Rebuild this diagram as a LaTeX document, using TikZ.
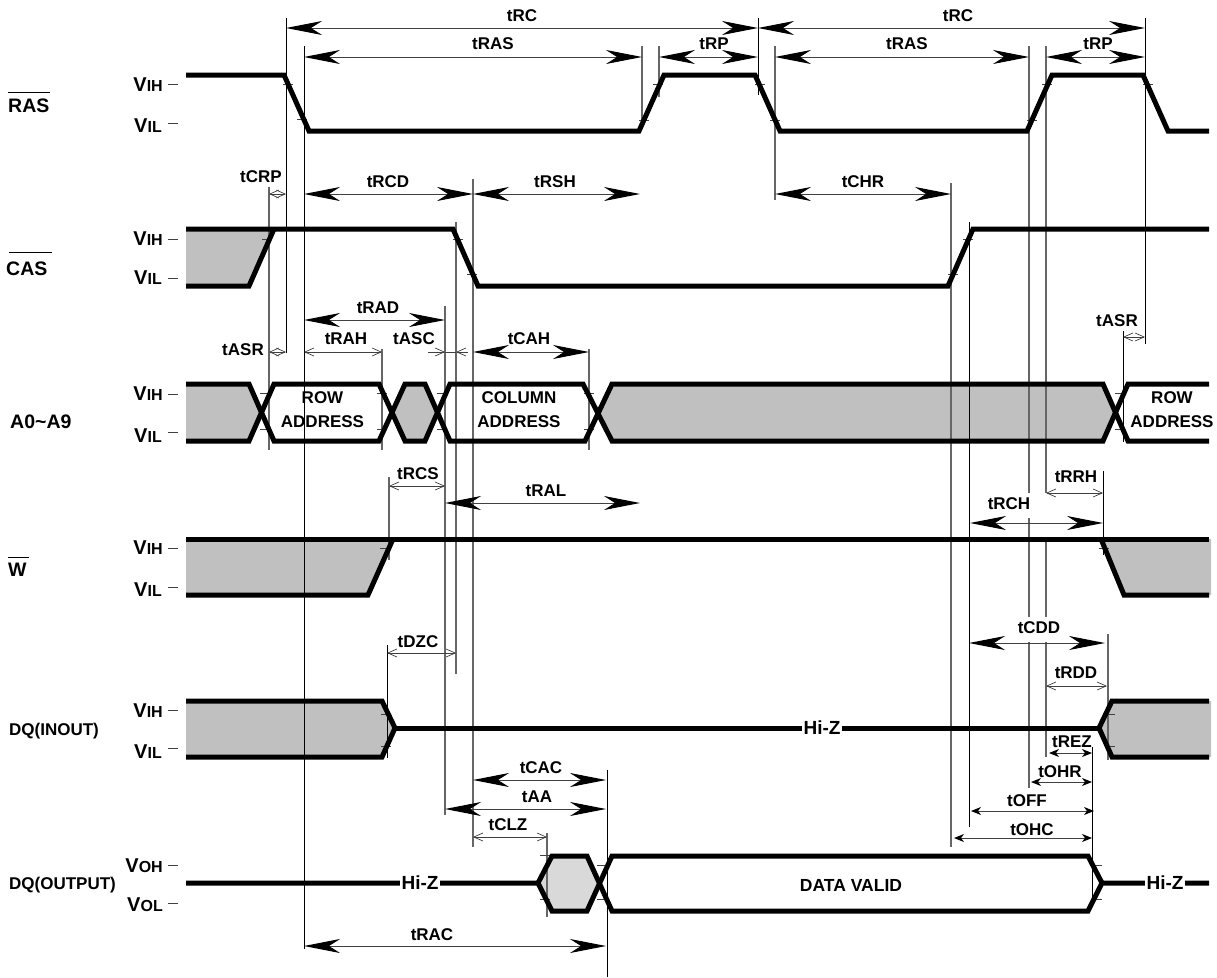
\documentclass[tikz,border=0pt]{standalone}
\usepackage{fontspec}
\setmainfont{Liberation Sans}
\usetikzlibrary{arrows.meta}
\definecolor{sgray}{HTML}{C0C0C0}
\definecolor{lgray}{HTML}{D9D9D9}
\definecolor{shaft}{HTML}{404040}
\definecolor{gguide}{HTML}{666666}
\tikzset{
  sig/.style={line width=5pt,line join=miter,line cap=butt,black},
  zone/.style={fill=sgray,draw=none},
  guideK/.style={line width=1pt,black},
  guideG/.style={line width=1.3pt,gguide},
  vt/.style={line width=1pt,shaft},
  lab/.style={font=\fontsize{17}{17}\selectfont\bfseries,inner sep=0pt,text=black},
  name lab/.style={font=\fontsize{17}{17}\selectfont\bfseries,inner sep=0pt,anchor=west,text=black},
  big name/.style={font=\fontsize{19.5}{20}\selectfont\bfseries,inner sep=0pt,anchor=west,text=black},
  vlab/.style={inner sep=0pt,anchor=east,text=black},
  hiz/.style={font=\fontsize{19}{19}\selectfont\bfseries,fill=white,inner sep=1.5pt,text=black},
  dimB/.style={line width=1pt,shaft,{Stealth[length=36pt,width=14pt,inset=11pt,black]}-{Stealth[length=36pt,width=14pt,inset=11pt,black]}},
  dimM/.style={line width=1pt,shaft,{Stealth[length=10pt,width=8pt,inset=3pt,black]}-{Stealth[length=10pt,width=8pt,inset=3pt,black]}},
  dimS/.style={line width=.8pt,shaft,{Straight Barb[length=9pt,width=8pt,line width=.7pt]}-{Straight Barb[length=9pt,width=8pt,line width=.7pt]}},
}
\newcommand\guide[4][guideK]{\coordinate (ga#2n#3) at (#2,#3); \coordinate (gb#2n#3) at (#2,#4); \draw[#1] (ga#2n#3) -- (gb#2n#3);}
\newcommand\dimension[4]{\coordinate (dl#2n#4) at (#2,#4); \coordinate (dr#3n#4) at (#3,#4); \draw[#1] (dl#2n#4) -- (dr#3n#4);}
\newcommand\vtick[2]{\draw[vt] (#1-5,#2) -- (#1+5,#2);}
\newcommand\VV[2]{{\fontsize{20}{20}\selectfont\bfseries #1}{\fontsize{16}{16}\selectfont\bfseries #2}}
\begin{document}
\begin{tikzpicture}[x=1pt,y=-1pt]
\useasboundingbox (0,0) rectangle (1217,977);
% gray zones
\fill[zone] (186,229) -- (274,229) -- (249,286) -- (186,286) -- cycle;
\fill[zone] (186,384) -- (249,384) -- (261.5,412.5) -- (249,441) -- (186,441) -- cycle;
\fill[zone] (392,412.5) -- (405,384) -- (425,384) -- (437.5,412.5) -- (425,441) -- (405,441) -- cycle;
\fill[zone] (597.5,412.5) -- (612,384) -- (1103,384) -- (1115.5,412.5) -- (1103,441) -- (612,441) -- cycle;
\fill[zone] (186,539) -- (393,539) -- (368,595) -- (186,595) -- cycle;
\fill[zone] (1101,539) -- (1211,539) -- (1211,595) -- (1124,595) -- cycle;
\fill[zone] (186,701) -- (382,701) -- (395,728) -- (382,757) -- (186,757) -- cycle;
\fill[zone] (1099,728) -- (1112,701) -- (1211,701) -- (1211,757) -- (1112,757) -- cycle;
\fill[lgray] (538,883) -- (552,856) -- (587,856) -- (599.5,883) -- (587,911) -- (552,911) -- cycle;
% guide lines
\guide{286}{18}{353}
\guide{304}{46}{949}
\guide[guideG]{269}{187}{450}
\guide[guideG]{382}{349}{450}
\guide[guideG]{445}{306}{815}
\guide[guideG]{456}{222}{674}
\guide[guideG]{473}{179}{847}
\guide[guideG]{589}{349}{450}
\guide[guideG]{389}{477}{560}
\guide{387}{645}{758}
\guide[guideG]{547}{833}{917}
\guide{607}{770}{977}
\guide{758}{18}{95}
\guide[guideG]{642}{46}{125}
\guide[guideG]{659}{46}{97}
\guide[guideG]{775}{46}{200}
\guide[guideG]{951}{183}{847}
\guide{969}{222}{827}
\guide[guideG]{1029}{46}{493}
\guide[guideG]{1029}{518}{617}
\guide[guideG]{1029}{642}{788}
\guide[guideG]{1046}{46}{493}
\guide[guideG]{1046}{539}{617}
\guide[guideG]{1046}{642}{757}
\guide{1145}{18}{344}
\guide{1123}{331}{442}
\guide{1103}{471}{555}
\guide[guideG]{1108}{634}{760}
\guide{1092}{747}{907}
% ticks
\vtick{288}{84}\vtick{302}{119}\vtick{644}{120}\vtick{658}{84}\vtick{760}{84}\vtick{775}{120}
\vtick{1032}{120}\vtick{1047}{84}\vtick{1148}{84}
\vtick{267}{239}\vtick{458}{239}\vtick{472}{274}\vtick{953}{274}\vtick{968}{239}
\vtick{265}{393}\vtick{265}{429}\vtick{382}{393}\vtick{382}{429}\vtick{442}{393}\vtick{442}{429}
\vtick{589}{393}\vtick{589}{429}\vtick{1120}{393}\vtick{1120}{429}
\vtick{385}{548}\vtick{1104}{548}
\vtick{386}{714}\vtick{386}{746}\vtick{1110}{714}\vtick{1110}{746}
\vtick{545}{855}\vtick{545}{899}\vtick{602}{865}\vtick{602}{899}\vtick{1097}{865}\vtick{1097}{899}
% signals
\draw[sig] (186,75) -- (284,75) -- (309,131) -- (639,131) -- (664,75) -- (755,75) -- (780,131) -- (1027,131) -- (1052,75) -- (1143,75) -- (1168,131) -- (1209,131);
\draw[sig] (186,229) -- (453,229) -- (478,286) -- (948,286) -- (973,229) -- (1209,229);
\draw[sig] (186,286) -- (249,286) -- (274,229);
\draw[sig] (186,384) -- (249,384) -- (274,441) -- (379,441) -- (405,384) -- (425,384) -- (450,441) -- (585,441) -- (612,384) -- (1103,384) -- (1128,441) -- (1209,441);
\draw[sig] (186,441) -- (249,441) -- (274,384) -- (379,384) -- (405,441) -- (425,441) -- (450,384) -- (583,384) -- (612,441) -- (1103,441) -- (1128,384) -- (1209,384);
\draw[sig] (186,539) -- (1209,539);
\draw[sig] (186,595) -- (368,595) -- (393,539);
\draw[sig] (1101,539) -- (1124,595) -- (1209,595);
\draw[sig] (186,701) -- (382,701) -- (395,728) -- (382,757) -- (186,757);
\draw[sig] (395,728) -- (1099,728);
\draw[sig] (1209,701) -- (1112,701) -- (1099,728) -- (1112,757) -- (1209,757);
\draw[sig] (186,883) -- (538,883) -- (552,856) -- (587,856) -- (612,911) -- (1088,911) -- (1102,883) -- (1209,883);
\draw[sig] (538,883) -- (552,911) -- (587,911) -- (612,856) -- (1088,856) -- (1102,883);
% dimension arrows
\dimension{dimB}{286}{758}{28}
\dimension{dimB}{758}{1145}{28}
\dimension{dimB}{304}{642}{57}
\dimension{dimB}{659}{758}{57}
\dimension{dimB}{775}{1029}{57}
\dimension{dimB}{1046}{1145}{57}
\dimension{dimS}{269}{286}{194}
\dimension{dimB}{304}{473}{194}
\dimension{dimB}{473}{640}{194}
\dimension{dimB}{775}{951}{194}
\dimension{dimB}{304}{445}{320}
\dimension{dimS}{269}{286}{352}
\dimension{dimS}{304}{382}{352}
\dimension{dimB}{473}{589}{352}
\dimension{dimS}{1123}{1145}{337}
\dimension{dimS}{389}{445}{486}
\dimension{dimB}{445}{640}{503}
\dimension{dimS}{1046}{1103}{493}
\dimension{dimB}{970}{1103}{523}
\dimension{dimB}{969}{1105}{643}
\dimension{dimS}{387}{456}{653}
\dimension{dimS}{1046}{1107}{686}
\dimension{dimM}{1049}{1092}{753}
\dimension{dimB}{473}{606}{780}
\dimension{dimM}{1031}{1092}{782}
\dimension{dimB}{445}{606}{809}
\dimension{dimM}{971}{1094}{811}
\dimension{dimS}{473}{547}{837}
\dimension{dimM}{954}{1092}{838}
\dimension{dimB}{304}{606}{946}
% tASC outward arrows
\coordinate (ascA) at (428,352); \coordinate (ascB) at (445,352);
\coordinate (ascC) at (468,352); \coordinate (ascD) at (456,352);
\draw[line width=.8pt,shaft,-{Straight Barb[length=9pt,width=8pt,line width=.7pt]}] (ascA) -- (ascB);
\draw[line width=.8pt,shaft,-{Straight Barb[length=9pt,width=8pt,line width=.7pt]}] (ascC) -- (ascD);
\draw[line width=.8pt,shaft] (ascB) -- (ascD);
% timing labels
\node[lab] (tRCa) at (522,16) {tRC};
\node[lab] (tRCb) at (958,16) {tRC};
\node[lab] (tRASa) at (493,44) {tRAS};
\node[lab] (tRASb) at (907,44) {tRAS};
\node[lab] (tRPa) at (714,44) {tRP};
\node[lab] (tRPb) at (1098,44) {tRP};
\node[lab] (tCRP) at (261,177) {tCRP};
\node[lab] (tRCD) at (388,182) {tRCD};
\node[lab] (tRSH) at (555,182) {tRSH};
\node[lab] (tCHR) at (863,182) {tCHR};
\node[lab] (tRAD) at (378,308) {tRAD};
\node[lab] (tASRa) at (243,350) {tASR};
\node[lab] (tRAH) at (346,339) {tRAH};
\node[lab] (tASC) at (414,339) {tASC};
\node[lab] (tCAH) at (529,339) {tCAH};
\node[lab] (tASRb) at (1117,321) {tASR};
\node[lab] (tRCS) at (418,474) {tRCS};
\node[lab] (tRAL) at (546,491) {tRAL};
\node[lab] (tRRH) at (1076,477) {tRRH};
\node[lab] (tRCH) at (1009,504) {tRCH};
\node[lab] (tCDD) at (1039,628) {tCDD};
\node[lab] (tDZC) at (418,642) {tDZC};
\node[lab] (tRDD) at (1076,673) {tRDD};
\node[lab] (tREZ) at (1072,742) {tREZ};
\node[lab] (tCAC) at (541,768) {tCAC};
\node[lab] (tOHR) at (1060,772) {tOHR};
\node[lab] (tAA) at (537,797) {tAA};
\node[lab] (tOFF) at (1027,801) {tOFF};
\node[lab] (tCLZ) at (508,825) {tCLZ};
\node[lab] (tOHC) at (1032,830) {tOHC};
\node[lab] (tRAC) at (432,935) {tRAC};
% data labels
\node[lab,align=center] (rowa) at (322.5,410) {ROW\\[7pt]ADDRESS};
\node[lab,align=center] (col) at (519,410) {COLUMN\\[7pt]ADDRESS};
\node[lab,align=center] (rowb) at (1172,410) {ROW\\[7pt]ADDRESS};
\node[lab,font=\fontsize{17.5}{17.5}\selectfont\bfseries] (dv) at (851,885.5) {DATA VALID};
\node[hiz] (hz1) at (822,728) {Hi-Z};
\node[hiz] (hz2) at (420,883) {Hi-Z};
\node[hiz] (hz3) at (1165,883) {Hi-Z};
% level labels and level ticks
\node[vlab] (v1) at (163,85) {\VV{V}{IH}};
\node[vlab] (v2) at (162,126) {\VV{V}{IL}};
\node[vlab] (v3) at (163,239) {\VV{V}{IH}};
\node[vlab] (v4) at (162,278) {\VV{V}{IL}};
\node[vlab] (v5) at (163,394) {\VV{V}{IH}};
\node[vlab] (v6) at (162,436) {\VV{V}{IL}};
\node[vlab] (v7) at (163,548) {\VV{V}{IH}};
\node[vlab] (v8) at (162,590) {\VV{V}{IL}};
\node[vlab] (v9) at (163,711) {\VV{V}{IH}};
\node[vlab] (v10) at (162,752) {\VV{V}{IL}};
\node[vlab] (v11) at (163,866) {\VV{V}{OH}};
\node[vlab] (v12) at (163,905) {\VV{V}{OL}};
\vtick{173}{84}\vtick{173}{123}\vtick{173}{239}\vtick{173}{278}\vtick{173}{394}\vtick{173}{432}
\vtick{173}{548}\vtick{173}{587}\vtick{173}{710}\vtick{173}{748}\vtick{173}{865}\vtick{173}{903}
% signal names
\node[big name] (nRAS) at (8,106) {RAS};
\coordinate (oRASa) at (8,92); \coordinate (oRASb) at (50,92); \draw[line width=1pt] (oRASa) -- (oRASb);
\node[big name] (nCAS) at (6,269) {CAS};
\coordinate (oCASa) at (9,252); \coordinate (oCASb) at (52,252); \draw[line width=1pt] (oCASa) -- (oCASb);
\node[big name] (nA) at (10,422) {A0\textasciitilde A9};
\node[big name] (nW) at (8,570) {W};
\coordinate (oWa) at (8,557); \coordinate (oWb) at (29,557); \draw[line width=1pt] (oWa) -- (oWb);
\node[name lab] (nDQi) at (9,731) {DQ(INOUT)};
\node[name lab] (nDQo) at (9,885) {DQ(OUTPUT)};
\end{tikzpicture}
\end{document}
